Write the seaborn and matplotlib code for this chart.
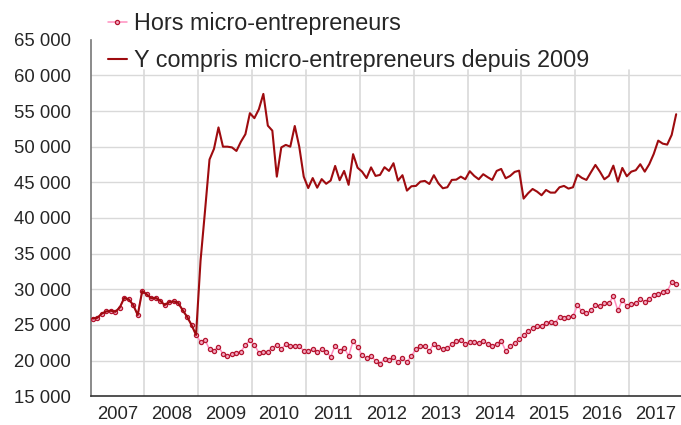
import matplotlib
matplotlib.use("Agg")
import matplotlib.pyplot as plt
import matplotlib.ticker as mticker
import seaborn as sns
import numpy as np
import pandas as pd

# Créations d'entreprises, données mensuelles CVS-CJO (janv. 2007 - nov. 2017)
months = pd.date_range("2007-01-01", "2017-11-01", freq="MS")

hors_micro = [
    25900, 26000, 26600, 26900, 27000, 26850, 27450, 28800, 28600, 27800, 26400, 29750,
    29300, 28750, 28800, 28400, 27800, 28200, 28300, 28100, 27100, 26150, 25000, 23600,
    22660, 22900, 21590, 21400, 21960, 20930, 20650, 20890, 21120, 21260, 22200, 22850,
    22200, 21120, 21210, 21260, 21820, 22200, 21630, 22290, 22100, 22100, 22010, 21400,
    21350, 21680, 21210, 21590, 21260, 20550, 22100, 21400, 21820, 20650, 22760, 21910,
    20790, 20370, 20650, 19990, 19570, 20230, 20090, 20470, 19810, 20330, 19810, 20650,
    21630, 22050, 22010, 21350, 22380, 21910, 21590, 21820, 22290, 22760, 22940, 22380,
    22620, 22570, 22480, 22760, 22340, 22100, 22340, 22800, 21380, 22010, 22500, 23040,
    23530, 24180, 24510, 24900, 24860, 25320, 25460, 25320, 26120, 25940, 26120, 26220,
    27760, 26920, 26680, 27060, 27760, 27660, 28040, 28040, 29020, 27060, 28500, 27660,
    27900, 28040, 28650, 28270, 28650, 29210, 29350, 29590, 29730, 30990, 30790,
]

y_compris_micro = hors_micro[:24] + [
    34000, 41000, 48200, 49700, 52700, 50000, 50000, 49900, 49400, 50700, 51750, 54700,
    54000, 55250, 57400, 52950, 52250, 45800, 49900, 50250, 50000, 52900, 50000, 45800,
    44200, 45600, 44250, 45450, 44800, 45250, 47300, 45300, 46600, 44650, 48950, 47050,
    46500, 45600, 47100, 45900, 46040, 47120, 46600, 47680, 45240, 46000, 43840, 44450,
    44500, 45100, 45200, 44770, 46000, 44870, 44170, 44310, 45340, 45380, 45800, 45430,
    46560, 45900, 45430, 46140, 45720, 45340, 46600, 46880, 45570, 45900, 46460, 46640,
    42720, 43470, 44070, 43700, 43190, 43930, 43560, 43560, 44310, 44500, 44120, 44310,
    46080, 45620, 45340, 46410, 47440, 46500, 45430, 45900, 47340, 45100, 47020, 45850,
    46500, 46700, 47540, 46500, 47540, 48980, 50850, 50430, 50290, 51650, 54550,
]

years = list(range(2007, 2018))
label_hors = "Hors micro-entrepreneurs"
label_y = "Y compris micro-entrepreneurs depuis 2009"

# position décimale (milieu du mois)
x = months.year + (months.month - 0.5) / 12
df = pd.DataFrame({"x": x, "hors": hors_micro, "ycompris": y_compris_micro})

sns.set_style("white")
plt.rcParams["font.family"] = ["Liberation Sans", "DejaVu Sans"]

fig = plt.figure(figsize=(6.81, 4.25), dpi=100)
ax = fig.add_axes([90.6 / 681, 1 - 396.3 / 425, 592.3 / 681, 356.6 / 425])

# grille
for v in range(20000, 65000, 5000):
    ax.axhline(v, color="#d9d9d9", lw=1.0, zorder=0)
for yr in years[1:]:
    ax.axvline(yr, ymax=0.915, color="#d9d9d9", lw=1.2, zorder=0)

sns.lineplot(data=df, x="x", y="hors", ax=ax, color="#ff8fc0", lw=1.1,
             marker="o", markersize=3.0, markerfacecolor="#f4a9c2",
             markeredgecolor="#b5152f", markeredgewidth=0.9,
             label=label_hors, zorder=3)
sns.lineplot(data=df, x="x", y="ycompris", ax=ax, color="#9e0b0f", lw=1.5,
             label=label_y, zorder=4)

ax.set_xlim(2007, 2018)
ax.set_ylim(15000, 65000)
ax.set_xlabel("")
ax.set_ylabel("")

ax.yaxis.set_major_locator(mticker.MultipleLocator(5000))
ax.yaxis.set_major_formatter(mticker.FuncFormatter(lambda v, p: f"{int(v):,}".replace(",", " ")))
ax.set_xticks(years + [2018])
ax.set_xticklabels([])
ax.set_xticks([yr + 0.5 for yr in years], minor=True)
ax.set_xticklabels([str(yr) for yr in years], minor=True)
ax.tick_params(axis="x", which="minor", length=0, pad=7, labelsize=13.3)
ax.tick_params(axis="x", which="major", length=6, width=1, color="#333333", direction="out")
ax.tick_params(axis="y", length=6, width=1, color="#777777", direction="out", pad=8, labelsize=13.3)

for s in ["top", "right"]:
    ax.spines[s].set_visible(False)
ax.spines["left"].set_color("#777777")
ax.spines["bottom"].set_color("#333333")
ax.spines["left"].set_linewidth(1.2)
ax.spines["bottom"].set_linewidth(1.2)

ax.legend(loc="upper left", bbox_to_anchor=(108 / 681, 1 - 12 / 425),
          bbox_transform=fig.transFigure, frameon=False, fontsize=16.8,
          handlelength=0.8, handletextpad=0.3, labelspacing=0.62,
          borderpad=0, borderaxespad=0)

fig.savefig("out.png", dpi=100)
